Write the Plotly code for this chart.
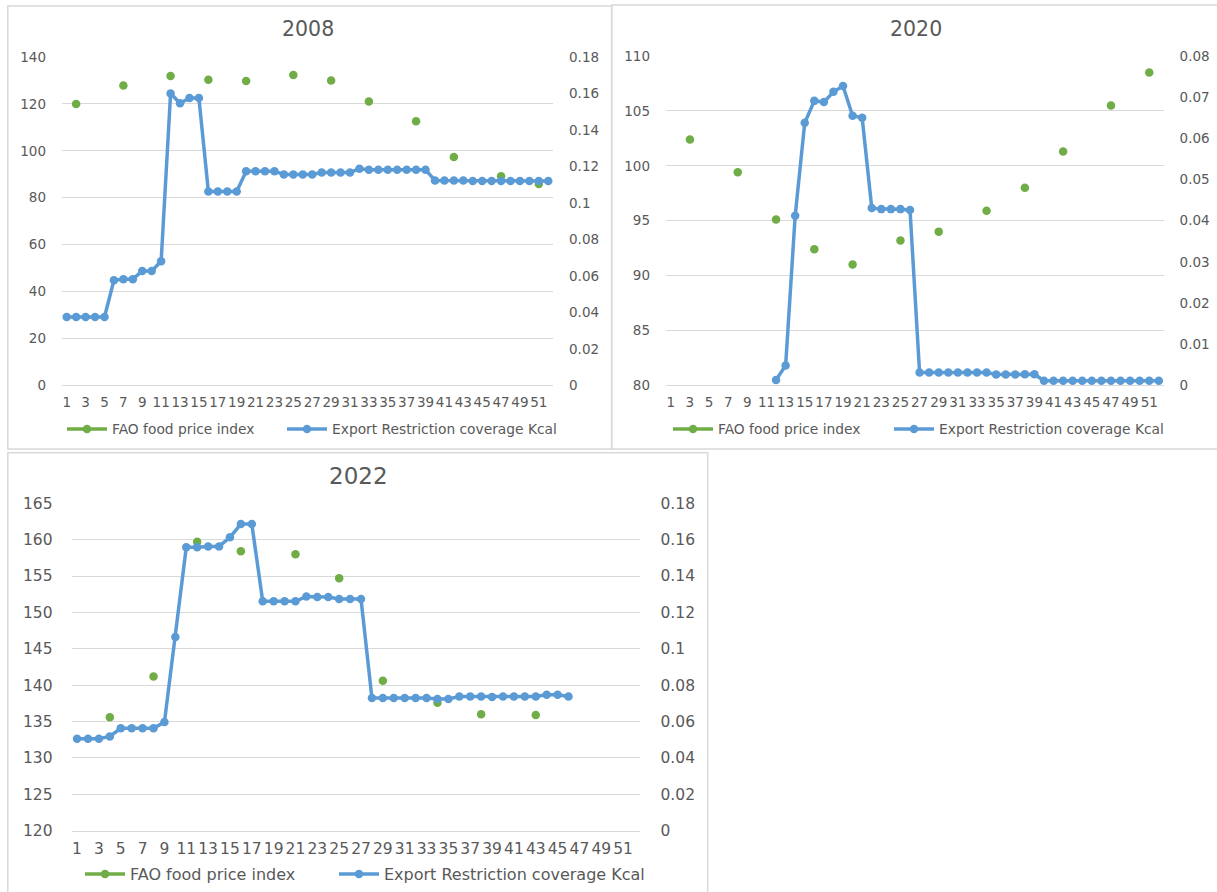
import plotly.graph_objects as go

W, H = 1217, 892

# ---------------- data ----------------
weeks = list(range(1, 53))
tick_weeks = list(range(1, 53, 2))
tick_text = [str(w) for w in tick_weeks]

# FAO food price index (monthly values, placed at the week they appear)
fao_2008_weeks = [2, 7, 12, 16, 20, 25, 29, 33, 38, 42, 47, 51]
fao_2008 = [120.0, 127.8, 131.9, 130.3, 129.8, 132.3, 130.0, 121.0, 112.6, 97.4, 89.2, 85.8]

fao_2020_weeks = [3, 8, 12, 16, 20, 25, 29, 34, 38, 42, 47, 51]
fao_2020 = [102.4, 99.4, 95.1, 92.4, 91.0, 93.2, 94.0, 95.9, 98.0, 101.3, 105.5, 108.5]

fao_2022_weeks = [4, 8, 12, 16, 21, 25, 29, 34, 38, 43]
fao_2022 = [135.6, 141.2, 159.7, 158.4, 158.0, 154.7, 140.6, 137.6, 136.0, 135.9]

# Export Restriction coverage Kcal (weekly)
erc_2008 = [0.0375, 0.0375, 0.0375, 0.0375, 0.0375, 0.0576, 0.0582, 0.0582, 0.0627, 0.0627,
            0.0680, 0.1600, 0.1546, 0.1575, 0.1575, 0.1063, 0.1063, 0.1063, 0.1063, 0.1174,
            0.1174, 0.1174, 0.1174, 0.1156, 0.1156, 0.1156, 0.1156, 0.1167, 0.1167, 0.1167,
            0.1167, 0.1187, 0.1182, 0.1182, 0.1182, 0.1182, 0.1182, 0.1182, 0.1182, 0.1123,
            0.1123, 0.1123, 0.1123, 0.1120, 0.1120, 0.1120, 0.1120, 0.1120, 0.1120, 0.1120,
            0.1120, 0.1120]

erc_2020 = [None, None, None, None, None, None, None, None, None, None,
            None, 0.0013, 0.0048, 0.0412, 0.0638, 0.0691, 0.0688, 0.0713, 0.0727, 0.0655,
            0.0650, 0.0431, 0.0428, 0.0428, 0.0428, 0.0426, 0.0031, 0.0031, 0.0031, 0.0031,
            0.0031, 0.0031, 0.0031, 0.0031, 0.0026, 0.0026, 0.0026, 0.0027, 0.0027, 0.0011,
            0.0011, 0.0011, 0.0011, 0.0011, 0.0011, 0.0011, 0.0011, 0.0011, 0.0011, 0.0011,
            0.0011, 0.0011]

erc_2022 = [0.0506, 0.0506, 0.0506, 0.0518, 0.0563, 0.0563, 0.0563, 0.0563, 0.0597, 0.1065,
            0.1558, 0.1558, 0.1563, 0.1563, 0.1613, 0.1686, 0.1686, 0.1261, 0.1261, 0.1261,
            0.1261, 0.1288, 0.1285, 0.1285, 0.1274, 0.1274, 0.1274, 0.0729, 0.0729, 0.0729,
            0.0729, 0.0729, 0.0729, 0.0724, 0.0724, 0.0738, 0.0738, 0.0738, 0.0735, 0.0738,
            0.0738, 0.0738, 0.0738, 0.0748, 0.0748, 0.0738]

years = ["2008", "2020", "2022"]
fao_name = "FAO food price index"
erc_name = "Export Restriction coverage Kcal"

GREEN = "#70AD47"
BLUE = "#5B9BD5"
GRID = "#D9D9D9"
TXT = "#595959"
FONT = "DejaVu Sans"
ITEMW = 40


def spread(ws, vals):
    m = dict(zip(ws, vals))
    return [m.get(w) for w in weeks]


def px_x(v):
    return v / W


def px_y(v):
    return 1 - v / H


# panel geometry in pixels: plot-area left, right, top, bottom
# leg_x = pixel where each legend text starts
panels = [
    dict(l=62, r=553, t=57, b=385.3, yl=[0, 140], dl=20, yr=[0, 0.18], dr=0.02,
         fs=13.5, lfs=13.8, tfs=20.5, title_xy=(308, 29), leg_y=429,
         leg_x=(112, 332), box=(7.8, 6, 611.7, 449), sl=15, sr=15, sx=4),
    dict(l=666, r=1163.6, t=56, b=385.3, yl=[80, 110], dl=5, yr=[0, 0.08], dr=0.01,
         fs=13.5, lfs=13.8, tfs=20.5, title_xy=(916, 29), leg_y=429,
         leg_x=(718, 939), box=(611.7, 5, 1222, 449), sl=15, sr=15, sx=4),
    dict(l=71.6, r=639.5, t=503.3, b=830.7, yl=[120, 165], dl=5, yr=[0, 0.18], dr=0.02,
         fs=15.5, lfs=16, tfs=23, title_xy=(358, 476), leg_y=874,
         leg_x=(130, 384), box=(7.8, 452.7, 707.7, 900), sl=18, sr=20, sx=4),
]

fao_list = [spread(fao_2008_weeks, fao_2008), spread(fao_2020_weeks, fao_2020),
            spread(fao_2022_weeks, fao_2022)]
erc_list = [erc_2008, erc_2020, erc_2022]

fig = go.Figure()
layout = dict(
    width=W, height=H,
    margin=dict(l=0, r=0, t=0, b=0, pad=0, autoexpand=False),
    paper_bgcolor="white", plot_bgcolor="white",
    font=dict(family=FONT, color=TXT, size=13),
    showlegend=True, annotations=[], shapes=[],
)

for i, p in enumerate(panels):
    xa = "x" if i == 0 else f"x{i + 1}"
    yl = f"y{2 * i + 1}" if i > 0 else "y"
    yr = f"y{2 * i + 2}"
    leg_a = "legend" if i == 0 else f"legend{2 * i + 1}"
    leg_b = f"legend{2 * i + 2}"

    erc = erc_list[i]
    fig.add_trace(go.Scatter(
        x=weeks, y=fao_list[i], name=fao_name, mode="lines+markers",
        connectgaps=False, xaxis=xa, yaxis=yl, legend=leg_a,
        line=dict(color=GREEN, width=3.5),
        marker=dict(color=GREEN, size=8.5), hoverinfo="skip"))
    fig.add_trace(go.Scatter(
        x=weeks[:len(erc)], y=erc, name=erc_name, mode="lines+markers",
        connectgaps=False, xaxis=xa, yaxis=yr, legend=leg_b,
        line=dict(color=BLUE, width=3.5),
        marker=dict(color=BLUE, size=8.5), hoverinfo="skip"))

    xkey = "xaxis" if i == 0 else f"xaxis{i + 1}"
    ylkey = "yaxis" if i == 0 else f"yaxis{2 * i + 1}"
    yrkey = f"yaxis{2 * i + 2}"

    layout[xkey] = dict(
        domain=[px_x(p["l"]), px_x(p["r"])], anchor=yl, range=[0.5, 52.5],
        tickmode="array", tickvals=tick_weeks, ticktext=tick_text,
        showgrid=False, zeroline=False, showline=True, linecolor=GRID, linewidth=1,
        ticks="", ticklabelstandoff=p["sx"], tickangle=0, automargin=False,
        tickfont=dict(family=FONT, color=TXT, size=p["fs"]), fixedrange=True)
    layout[ylkey] = dict(
        domain=[px_y(p["b"]), px_y(p["t"])], anchor=xa, range=p["yl"],
        tick0=p["yl"][0], dtick=p["dl"], showgrid=True, gridcolor=GRID, gridwidth=1,
        zeroline=False, showline=False, ticks="", ticklabelstandoff=p["sl"],
        automargin=False,
        tickfont=dict(family=FONT, color=TXT, size=p["fs"]), fixedrange=True)
    layout[yrkey] = dict(
        overlaying=yl, side="right", anchor=xa, range=p["yr"],
        tick0=0, dtick=p["dr"], showgrid=False, zeroline=False, showline=False,
        ticks="", ticklabelstandoff=p["sr"], automargin=False,
        tickfont=dict(family=FONT, color=TXT, size=p["fs"]), fixedrange=True)

    for key, lx in ((leg_a, p["leg_x"][0]), (leg_b, p["leg_x"][1])):
        layout[key] = dict(
            x=px_x(lx - ITEMW - 10), y=px_y(p["leg_y"]), xanchor="left", yanchor="middle",
            orientation="h", bgcolor="rgba(0,0,0,0)", borderwidth=0, itemwidth=ITEMW,
            font=dict(family=FONT, color=TXT, size=p["lfs"]))

    layout["annotations"].append(dict(
        text=years[i], x=px_x(p["title_xy"][0]), y=px_y(p["title_xy"][1]),
        xref="paper", yref="paper", xanchor="center", yanchor="middle",
        showarrow=False, font=dict(family=FONT, color=TXT, size=p["tfs"])))

    bx = p["box"]
    layout["shapes"].append(dict(
        type="rect", xref="paper", yref="paper", x0=px_x(bx[0]), x1=px_x(bx[2]),
        y0=px_y(bx[1]), y1=px_y(bx[3]), line=dict(color=GRID, width=1.5),
        fillcolor="rgba(0,0,0,0)", layer="below"))

fig.update_layout(**layout)

post = ("document.documentElement.style.margin='0';"
        "document.documentElement.style.overflow='hidden';"
        "document.body.style.margin='0';document.body.style.padding='0';"
        "document.body.style.overflow='hidden';"
        "var d=document.getElementById('{plot_id}');"
        "if(d){d.style.position='fixed';d.style.left='0px';d.style.top='0px';}")

fig.write_html("out.html", config={"displayModeBar": False, "staticPlot": True},
               post_script=post)
